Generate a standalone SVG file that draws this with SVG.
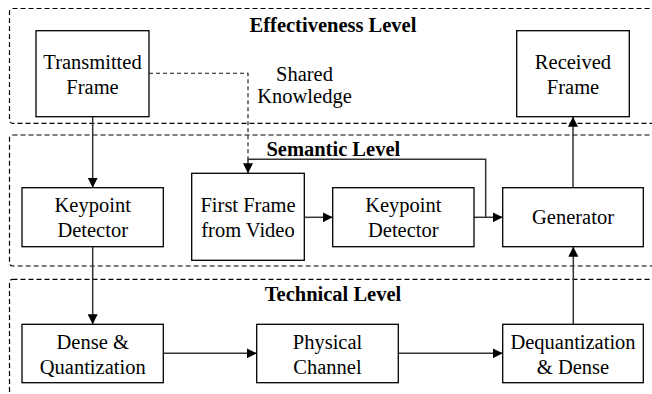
<svg xmlns="http://www.w3.org/2000/svg" width="652" height="394" viewBox="0 0 652 394">
<style>
.region{fill:none;stroke:#000;stroke-width:1.2;stroke-dasharray:5,3}
.box{fill:#fff;stroke:#000;stroke-width:1.3}
.lbl{font-family:'Liberation Serif','DejaVu Serif',serif;font-size:20.5px;font-weight:normal;text-anchor:middle;fill:#000}
.ttl{font-family:'Liberation Serif','DejaVu Serif',serif;font-size:20.5px;font-weight:bold;text-anchor:middle;fill:#000}
.conn{fill:none;stroke:#333;stroke-width:1.5}
.dash{fill:none;stroke:#111;stroke-width:1.1;stroke-dasharray:4,3}
</style>
<defs>
<marker id="arr" markerWidth="10" markerHeight="10" refX="10" refY="5" orient="auto" markerUnits="userSpaceOnUse">
<path d="M0,0 L10,5 L0,10 z" fill="#000"/>
</marker>
</defs>
<g id="regions">
<rect id="effectiveness" class="region" x="9.5" y="8.5" width="660" height="114.8" rx="3"/>
<rect id="semantic" class="region" x="9.5" y="135" width="660" height="131" rx="3"/>
<rect id="technical" class="region" x="9.5" y="279.3" width="660" height="140" rx="3"/>
<text class="ttl" x="333" y="31.7">Effectiveness Level</text>
<text class="ttl" x="333.3" y="156">Semantic Level</text>
<text class="ttl" x="333" y="301">Technical Level</text>
</g>
<g id="connectors">
<path class="dash" d="M149,73.3 H248 V159.3"/>
<path class="conn" d="M485.7,217.3 V159.3 H248 V173.3" marker-end="url(#arr)"/>
<path class="conn" d="M92.7,116.7 V187.7" marker-end="url(#arr)"/>
<path class="conn" d="M92.7,246.7 V324.3" marker-end="url(#arr)"/>
<path class="conn" d="M163.3,353.3 H256.7" marker-end="url(#arr)"/>
<path class="conn" d="M398.3,353.3 H502.7" marker-end="url(#arr)"/>
<path class="conn" d="M573.3,324.3 V246.7" marker-end="url(#arr)"/>
<path class="conn" d="M573,187.7 V116.7" marker-end="url(#arr)"/>
<path class="conn" d="M304.3,217.3 H332.7" marker-end="url(#arr)"/>
<path class="conn" d="M474,217.3 H502.7" marker-end="url(#arr)"/>
<text class="lbl" x="304.5" y="81">Shared</text>
<text class="lbl" x="304.5" y="103.3">Knowledge</text>
</g>
<g id="transmitted">
<rect class="box" x="36" y="30.7" width="113" height="86"/>
<text class="lbl" x="92.5" y="69.3">Transmitted</text>
<text class="lbl" x="92.5" y="94">Frame</text>
</g>
<g id="received">
<rect class="box" x="516.7" y="30.7" width="112.6" height="86"/>
<text class="lbl" x="573" y="69.3">Received</text>
<text class="lbl" x="573" y="94">Frame</text>
</g>
<g id="kd1">
<rect class="box" x="22" y="187.7" width="141.3" height="59"/>
<text class="lbl" x="92.7" y="211.7">Keypoint</text>
<text class="lbl" x="92.7" y="236.7">Detector</text>
</g>
<g id="firstframe">
<rect class="box" x="191.7" y="173.3" width="112.6" height="87"/>
<text class="lbl" x="248" y="212">First Frame</text>
<text class="lbl" x="248" y="236.7">from Video</text>
</g>
<g id="kd2">
<rect class="box" x="332.7" y="187.7" width="141.3" height="59"/>
<text class="lbl" x="403.3" y="211.7">Keypoint</text>
<text class="lbl" x="403.3" y="236.7">Detector</text>
</g>
<g id="generator">
<rect class="box" x="502.7" y="187.7" width="140.6" height="59"/>
<text class="lbl" x="573" y="224.3">Generator</text>
</g>
<g id="dense">
<rect class="box" x="22" y="324.3" width="141.3" height="58.4"/>
<text class="lbl" x="92.7" y="349.3">Dense &amp;</text>
<text class="lbl" x="92.7" y="374">Quantization</text>
</g>
<g id="physical">
<rect class="box" x="256.7" y="324.3" width="141.6" height="58.4"/>
<text class="lbl" x="327.5" y="349">Physical</text>
<text class="lbl" x="327.5" y="373.5">Channel</text>
</g>
<g id="dequant">
<rect class="box" x="502.7" y="324.3" width="140.6" height="58.4"/>
<text class="lbl" x="573" y="349.3">Dequantization</text>
<text class="lbl" x="573" y="373.5">&amp; Dense</text>
</g>
</svg>
